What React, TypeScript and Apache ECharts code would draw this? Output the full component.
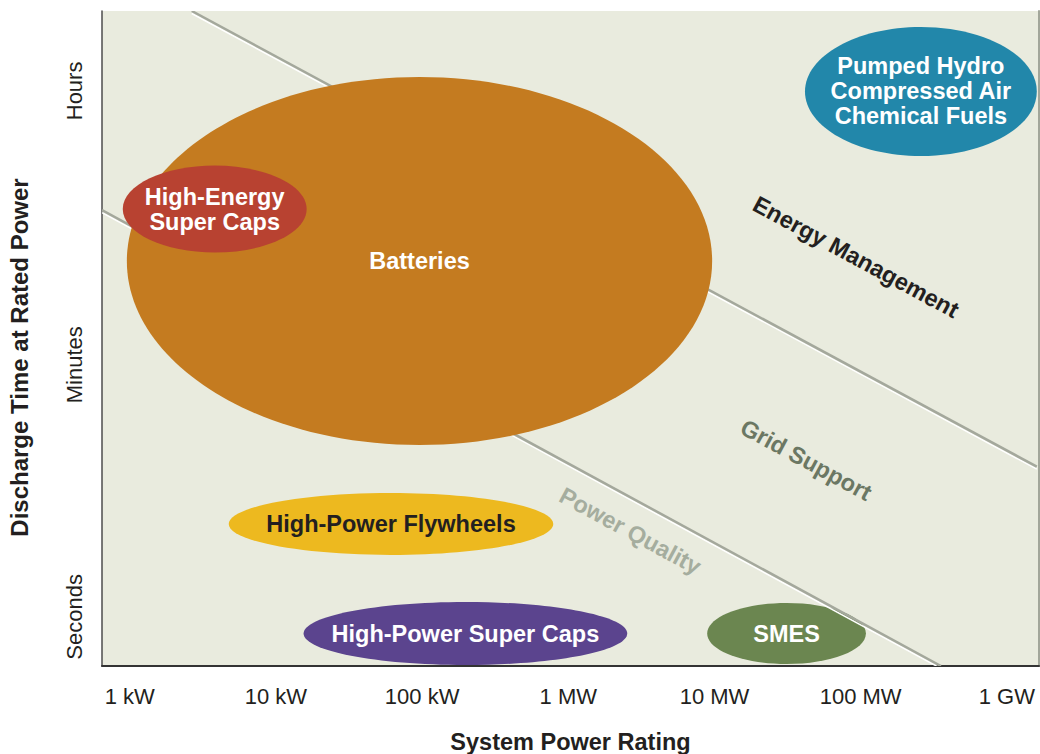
import React, { useEffect, useRef } from "react";
import * as echarts from "echarts";

// Axis ticks (x: decades above 1 kW, y: relative discharge-time scale)
const xTickValues = [0, 1, 2, 3, 4, 5, 6];
const xTickLabels = ["1 kW", "10 kW", "100 kW", "1 MW", "10 MW", "100 MW", "1 GW"];
const yTickValues = [0.75, 4.6, 8.78];
const yTickLabels = ["Seconds", "Minutes", "Hours"];

// Technologies drawn beneath the boundary lines
const backTechNames = ["Pumped Hydro\nCompressed Air\nChemical Fuels", "High-Power Flywheels", "High-Power Super Caps", "SMES"];
const backTechX = [5.412, 1.787, 2.296, 4.493];
const backTechY = [8.771, 2.168, 0.496, 0.496];
const backTechRx = [0.793, 1.11, 1.107, 0.543];
const backTechRy = [0.985, 0.473, 0.481, 0.466];

// Technologies drawn above the boundary lines
const frontTechNames = ["Batteries", "High-Energy\nSuper Caps"];
const frontTechX = [1.982, 0.581];
const frontTechY = [6.183, 6.977];
const frontTechRx = [2.002, 0.629];
const frontTechRy = [2.809, 0.664];

// Region boundaries [x1, y1, x2, y2]
const boundaryEnergyGrid = [0.424, 10.0, 6.205, 3.043];
const boundaryGridPower = [-0.19, 6.96, 5.549, 0];

// Region labels
const regionNames = ["Energy Management", "Grid Support", "Power Quality"];
const regionX = [4.968, 4.627, 3.424];
const regionY = [6.244, 3.145, 2.061];

// Styles
const backFill = ["#2287AA", "#EDB91F", "#5B448E", "#6B8650"];
const backText = ["#FFFFFF", "#231F20", "#FFFFFF", "#FFFFFF"];
const frontFill = ["#C47B20", "#B84231"];
const frontText = ["#FFFFFF", "#FFFFFF"];
const regionColors = ["#231F20", "#6B7763", "#A5AD9E"];
const FONT = '"Liberation Sans", Arial, Helvetica, sans-serif';

function ellipseSeries(names: string[], xs: number[], ys: number[], rxs: number[], rys: number[], fills: string[], texts: string[], z: number) {
  return {
    type: "custom",
    coordinateSystem: "cartesian2d",
    xAxisIndex: 0,
    yAxisIndex: 0,
    z,
    silent: true,
    encode: { x: 0, y: 1 },
    data: xs.map((x, i) => [x, ys[i], rxs[i], rys[i]]),
    renderItem: (params: any, api: any) => {
      const i = params.dataIndex;
      const c = api.coord([api.value(0), api.value(1)]);
      const s = api.size([api.value(2), api.value(3)]);
      return {
        type: "group",
        children: [
          { type: "ellipse", shape: { cx: c[0], cy: c[1], rx: s[0], ry: s[1] }, style: { fill: fills[i] } },
          {
            type: "text",
            x: c[0],
            y: c[1],
            style: {
              text: names[i],
              fill: texts[i],
              fontSize: 23.5,
              fontWeight: "bold",
              fontFamily: FONT,
              align: "center",
              verticalAlign: "middle",
              lineHeight: 25,
            },
          },
        ],
      };
    },
  };
}

export default function App() {
  const ref = useRef<HTMLDivElement>(null);
  useEffect(() => {
    document.body.style.margin = "0";
    const chart = echarts.init(ref.current!, undefined, { renderer: "svg" });
    const option: any = {
      animation: false,
      backgroundColor: "#FFFFFF",
      textStyle: { fontFamily: FONT },
      grid: {
        left: 102,
        right: 1,
        top: 11,
        bottom: 88,
        show: true,
        backgroundColor: "#E9EBDE",
        borderWidth: 0,
        containLabel: false,
        outerBoundsMode: "none",
      },
      xAxis: {
        type: "value",
        min: -0.19,
        max: 6.22,
        axisLine: { show: true, onZero: false, lineStyle: { color: "#333333", width: 2 } },
        axisTick: { show: false },
        splitLine: { show: false },
        axisLabel: {
          customValues: xTickValues,
          formatter: (v: number) => xTickLabels[xTickValues.indexOf(v)] ?? "",
          fontSize: 22,
          color: "#231F20",
          margin: 19,
          fontFamily: FONT,
        },
        name: "System Power Rating",
        nameLocation: "middle",
        nameGap: 64,
        nameTextStyle: { fontSize: 23.5, fontWeight: "bold", color: "#231F20", fontFamily: FONT },
      },
      yAxis: [
        {
          type: "value",
          min: 0,
          max: 10,
          axisLine: { show: true, onZero: false, lineStyle: { color: "#4D4D4D", width: 1.5 } },
          axisTick: { show: false },
          splitLine: { show: false },
          axisLabel: {
            customValues: yTickValues,
            formatter: (v: number) => yTickLabels[yTickValues.indexOf(v)] ?? "",
            rotate: 90,
            fontSize: 22,
            color: "#231F20",
            margin: 17,
            fontFamily: FONT,
          },
          name: "Discharge Time at Rated Power",
          nameLocation: "middle",
          nameGap: 71,
          nameRotate: 90,
          nameTextStyle: { fontSize: 24, fontWeight: "bold", color: "#231F20", fontFamily: FONT, padding: [0, 38, 0, 0] },
        },
        {
          type: "value",
          position: "right",
          min: 0,
          max: 10,
          axisLine: { show: true, onZero: false, lineStyle: { color: "#A2A69A", width: 2 } },
          axisTick: { show: false },
          axisLabel: { show: false },
          splitLine: { show: false },
        },
      ],
      series: [
        ellipseSeries(backTechNames, backTechX, backTechY, backTechRx, backTechRy, backFill, backText, 2),
        {
          type: "custom",
          coordinateSystem: "cartesian2d",
          xAxisIndex: 0,
          yAxisIndex: 0,
          z: 3,
          silent: true,
          clip: true,
          encode: { x: [0, 2], y: [1, 3] },
          data: [boundaryEnergyGrid, boundaryGridPower],
          renderItem: (params: any, api: any) => {
            const p1 = api.coord([api.value(0), api.value(1)]);
            const p2 = api.coord([api.value(2), api.value(3)]);
            return {
              type: "group",
              children: [
                { type: "line", shape: { x1: p1[0], y1: p1[1] + 2.5, x2: p2[0], y2: p2[1] + 2.5 }, style: { stroke: "#FFFFFF", lineWidth: 1.5 } },
                { type: "line", shape: { x1: p1[0], y1: p1[1], x2: p2[0], y2: p2[1] }, style: { stroke: "#A4A89C", lineWidth: 2.5 } },
              ],
            };
          },
        },
        ellipseSeries(frontTechNames, frontTechX, frontTechY, frontTechRx, frontTechRy, frontFill, frontText, 4),
        {
          type: "custom",
          coordinateSystem: "cartesian2d",
          xAxisIndex: 0,
          yAxisIndex: 0,
          z: 5,
          silent: true,
          encode: { x: 0, y: 1 },
          data: regionX.map((x, i) => [x, regionY[i]]),
          renderItem: (params: any, api: any) => {
            const i = params.dataIndex;
            const c = api.coord([api.value(0), api.value(1)]);
            const a = api.coord([boundaryEnergyGrid[0], boundaryEnergyGrid[1]]);
            const b = api.coord([boundaryEnergyGrid[2], boundaryEnergyGrid[3]]);
            const angle = -Math.atan2(b[1] - a[1], b[0] - a[0]);
            return {
              type: "text",
              x: c[0],
              y: c[1],
              rotation: angle,
              style: {
                text: regionNames[i],
                fill: regionColors[i],
                fontSize: 23.5,
                fontWeight: "bold",
                fontFamily: FONT,
                align: "center",
                verticalAlign: "middle",
              },
            };
          },
        },
      ],
    };
    chart.setOption(option);
    return () => chart.dispose();
  }, []);
  return <div ref={ref} style={{ width: 1040, height: 754 }} />;
}
